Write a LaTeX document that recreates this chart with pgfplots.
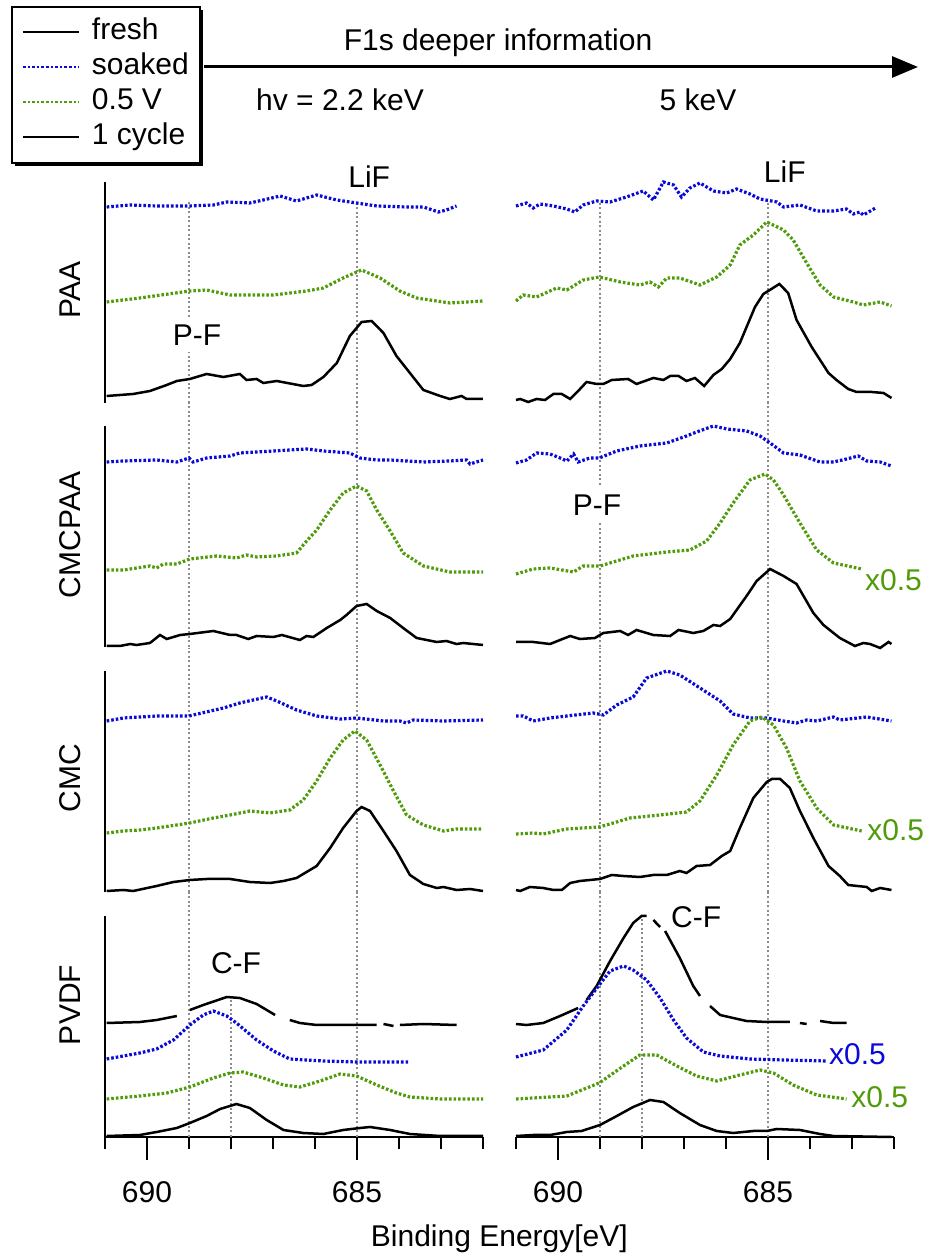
\documentclass[border=0pt]{standalone}
\usepackage{fontspec}
\setmainfont{Liberation Sans}
\usepackage{pgfplots}
\pgfplotsset{compat=1.18}
\usetikzlibrary{arrows.meta,shadows}

\definecolor{sblue}{RGB}{10,10,215}
\definecolor{sgreen}{RGB}{80,155,10}
\definecolor{rgray}{RGB}{140,140,140}
\newcommand\fs{\fontsize{30}{36}\selectfont}
\makeatletter
\tikzset{reset preactions/.code={\let\tikz@preactions\pgfutil@empty}}
\makeatother

\pgfplotsset{
 panel/.style={scale only axis, width=378pt, height=221pt, xmin=682, xmax=691, x dir=reverse,
   ymin=0, ymax=221, clip=false, ytick=\empty, xtick=\empty, axis line style={line width=2.5pt},
   unbounded coords=jump, anchor=south west, font=\fs},
 leftpanel/.style={panel, axis x line=none, axis y line*=left},
 rightpanel/.style={panel, hide axis},
 bottomtick/.style={xtick={690,685}, minor xtick={682,...,691}, tick align=outside,
   major tick length=23pt, minor tick length=12pt, tick style={line width=2.5pt, black},
   xticklabels={}},
 fresh/.style={black, line width=2.5pt},
 soak/.style={sblue, line width=3.2pt, dash pattern=on 2.6pt off 2pt},
 half/.style={sgreen, line width=3.2pt, dash pattern=on 2.6pt off 2pt},
 cyc/.style={black, line width=2.5pt},
 ref/.style={rgray, line width=1.8pt, dash pattern=on 2pt off 2.5pt, forget plot},
}

\begin{document}
\begin{tikzpicture}
\path[use as bounding box] (0pt,0pt) rectangle (929pt,1258pt);

% ---------------- Row 1 left : PAA, 2.2 keV
\begin{axis}[leftpanel, at={(105pt,855pt)},
  legend image code/.code={\draw[reset preactions, #1, line width=2pt] (0pt,0pt) -- (56pt,0pt);},
  legend cell align=left,
  legend style={at={(-0.2487,1.7964)}, anchor=north west, draw=black, line width=2pt, fill=white,
    drop shadow={shadow xshift=3pt, shadow yshift=-3pt, opacity=1, fill=black},
    font=\fs, inner xsep=10pt, inner ysep=10pt, row sep=4pt,
    /tikz/every odd column/.append style={column sep=11pt},
    nodes={inner sep=1pt, text height=22pt, text depth=7pt}}]
\addlegendimage{fresh}
\addlegendimage{soak}
\addlegendimage{half}
\addlegendimage{cyc}
\legend{fresh,soaked,0.5 V,1 cycle}
\addplot[ref] coordinates {(689,0) (689,51) (689,nan) (689,86) (689,203)};
\addplot[ref] coordinates {(685,0) (685,200)};
\addplot[soak, forget plot] coordinates {(690.96,196) (690.40,198) (689.77,197) (689.00,197) (688.42,198) (688.10,201) (687.55,200) (687.23,203) (686.83,207) (686.44,202) (685.96,208) (685.48,203) (685.01,200) (684.53,197) (683.82,196) (683.42,196) (683.06,191) (682.87,193) (682.63,197)};
\addplot[half, forget plot] coordinates {(690.96,101) (690.17,105) (688.98,112) (688.58,113) (688.02,108) (686.99,108) (686.20,112) (685.80,115) (685.33,125) (684.89,133) (684.45,125) (683.98,112) (683.58,105) (682.79,100) (682.0,102)};
\addplot[cyc, forget plot] coordinates {(690.96,7) (690.33,9) (689.93,12) (689.53,18) (689.29,22) (688.98,24) (688.58,29) (688.18,26) (687.79,29) (687.63,23) (687.39,24) (687.23,20) (686.91,22) (686.28,17) (686.08,18) (685.80,26) (685.48,40) (685.17,67) (684.89,81) (684.65,82) (684.37,70) (684.06,47) (683.74,30) (683.42,13) (683.02,7) (682.79,4) (682.51,7) (682.39,4) (682.0,4)};
\node[font=\fs] at (axis cs:684.71,226) {LiF};
\node[font=\fs] at (axis cs:688.81,68) {P-F};
\node[font=\fs, rotate=90] at (axis cs:691.83,113) {PAA};
\end{axis}

% ---------------- Row 1 right : PAA, 5 keV
\begin{axis}[rightpanel, at={(516pt,855pt)}]
\addplot[ref] coordinates {(689,0) (689,201)};
\addplot[ref] coordinates {(685,0) (685,201)};
\addplot[soak] coordinates {(691.00,197) (690.75,200) (690.59,195) (690.43,199) (690.11,197) (689.79,194) (689.60,191) (689.40,198) (689.08,202) (688.76,201) (688.37,206) (687.97,212) (687.73,203) (687.49,221) (687.25,218) (687.06,206) (686.86,215) (686.62,220) (686.30,212) (685.98,210) (685.75,214) (685.43,209) (685.19,204) (684.79,201) (684.63,196) (684.24,198) (683.84,192) (683.44,192) (683.13,194) (682.97,189) (682.81,191) (682.73,188) (682.44,195)};
\addplot[half] coordinates {(691.00,102) (690.83,108) (690.51,106) (690.03,115) (689.79,113) (689.40,123) (689.02,126) (688.52,121) (688.05,118) (687.81,121) (687.61,116) (687.41,125) (687.10,125) (686.62,118) (686.22,126) (685.90,138) (685.67,158) (685.35,168) (685.03,181) (684.63,173) (684.40,163) (684.08,140) (683.76,118) (683.44,106) (682.97,101) (682.73,98) (682.33,101) (682.06,97)};
\addplot[cyc] coordinates {(691.00,3) (690.90,4) (690.71,1) (690.51,4) (690.31,3) (690.11,9) (689.91,9) (689.71,4) (689.52,12) (689.32,21) (689.08,19) (688.92,19) (688.72,23) (688.33,24) (688.13,19) (687.73,25) (687.49,23) (687.33,27) (687.13,27) (686.94,22) (686.74,25) (686.52,17) (686.30,28) (686.10,34) (685.90,44) (685.67,60) (685.31,96) (685.11,109) (684.73,119) (684.52,110) (684.32,83) (683.96,56) (683.56,30) (683.37,23) (683.09,14) (682.89,11) (682.53,11) (682.25,10) (682.06,5)};
\node[font=\fs] at (axis cs:684.6,231) {LiF};
\end{axis}

% ---------------- Row 2 left : CMCPAA, 2.2 keV
\begin{axis}[leftpanel, at={(105pt,611pt)}]
\addplot[ref] coordinates {(689,0) (689,244)};
\addplot[ref] coordinates {(685,0) (685,244)};
\addplot[soak] coordinates {(690.96,185) (690.56,186) (689.77,187) (689.29,185) (689.00,189) (688.90,185) (688.58,189) (688.02,191) (687.79,194) (687.39,195) (686.99,196) (686.20,198) (685.80,196) (685.17,194) (684.93,189) (684.53,187) (684.21,187) (683.42,185) (682.79,186) (682.39,187) (682.31,183) (682.0,187)};
\addplot[half] coordinates {(690.96,77) (690.56,77) (689.93,81) (689.77,79) (689.61,83) (689.29,83) (688.98,88) (688.34,91) (687.87,89) (687.63,92) (687.39,90) (686.91,91) (686.44,94) (686.20,106) (685.96,117) (685.64,137) (685.33,154) (685.01,161) (684.77,156) (684.53,137) (684.21,116) (683.90,94) (683.42,81) (682.79,75) (682.0,75)};
\addplot[cyc] coordinates {(690.96,1) (690.64,1) (690.40,3) (690.25,2) (689.93,4) (689.69,12) (689.53,8) (689.21,12) (688.98,13) (688.42,16) (688.02,12) (687.87,12) (687.59,8) (687.39,11) (686.99,10) (686.79,12) (686.36,7) (686.20,11) (686.04,10) (685.72,19) (685.40,27) (685.25,32) (685.01,41) (684.77,43) (684.53,36) (684.21,29) (683.90,19) (683.58,9) (683.10,5) (682.87,6) (682.63,3) (682.47,4) (682.0,2)};
\node[font=\fs, rotate=90] at (axis cs:691.83,112) {CMCPAA};
\end{axis}

% ---------------- Row 2 right : CMCPAA, 5 keV
\begin{axis}[rightpanel, at={(516pt,611pt)}]
\addplot[ref] coordinates {(689,0) (689,125) (689,nan) (689,162) (689,244)};
\addplot[ref] coordinates {(685,0) (685,244)};
\addplot[soak] coordinates {(691.00,184) (690.75,187) (690.51,194) (690.19,193) (689.95,189) (689.79,186) (689.63,193) (689.52,185) (689.24,189) (689.02,189) (688.60,196) (688.05,201) (687.41,204) (686.94,211) (686.70,215) (686.30,221) (685.98,218) (685.51,216) (685.19,211) (684.95,204) (684.63,194) (684.24,192) (683.76,185) (683.44,185) (683.13,188) (682.85,191) (682.65,186) (682.33,185) (682.06,181)};
\addplot[half] coordinates {(691.00,73) (690.59,78) (690.19,79) (689.63,75) (689.40,81) (689.00,81) (688.21,91) (687.41,95) (686.86,97) (686.46,106) (686.14,124) (685.83,144) (685.43,167) (685.07,173) (684.87,167) (684.63,152) (684.24,124) (683.84,97) (683.44,84) (682.77,78)};
\addplot[cyc] coordinates {(691.00,5) (690.59,5) (690.19,3) (689.71,11) (689.48,8) (689.12,9) (688.92,14) (688.52,16) (688.33,12) (688.13,17) (687.73,12) (687.33,11) (687.13,17) (686.78,14) (686.54,16) (686.30,22) (686.14,21) (685.90,28) (685.51,51) (685.27,66) (684.95,78) (684.63,71) (684.32,63) (683.92,34) (683.68,22) (683.29,9) (682.93,1) (682.73,4) (682.57,3) (682.33,-1) (682.13,5) (682.06,3)};
\node[font=\fs] at (axis cs:689.07,142) {P-F};
\node[font=\fs, text=sgreen, anchor=west, inner sep=0pt] at (axis cs:682.69,67) {x0.5};
\end{axis}

% ---------------- Row 3 left : CMC, 2.2 keV
\begin{axis}[leftpanel, at={(105pt,366pt)}]
\addplot[ref] coordinates {(689,0) (689,244)};
\addplot[ref] coordinates {(685,0) (685,244)};
\addplot[soak] coordinates {(690.96,171) (690.56,174) (689.77,176) (689.00,176) (688.18,184) (687.79,189) (687.47,192) (687.15,195) (686.91,191) (686.44,182) (685.96,176) (685.40,173) (685.01,174) (684.37,171) (683.98,171) (683.82,169) (683.66,172) (682.94,171) (682.0,172)};
\addplot[half] coordinates {(690.96,59) (690.56,61) (690.17,62) (689.77,64) (688.98,69) (688.42,74) (688.02,77) (687.55,81) (687.07,79) (686.60,82) (686.28,92) (685.96,111) (685.64,134) (685.33,152) (685.05,161) (684.77,152) (684.45,127) (684.13,101) (683.82,77) (683.42,67) (682.94,61) (682.63,63) (682.0,63)};
\addplot[cyc] coordinates {(690.96,1) (690.56,2) (690.33,1) (689.77,6) (689.37,10) (688.98,12) (688.58,13) (688.02,13) (687.55,10) (687.07,9) (686.75,11) (686.44,14) (685.96,26) (685.64,44) (685.33,64) (685.01,81) (684.89,85) (684.69,81) (684.37,61) (684.06,41) (683.74,17) (683.42,8) (683.10,4) (682.94,5) (682.63,2) (682.31,3) (682.0,1)};
\node[font=\fs, rotate=90] at (axis cs:691.83,114) {CMC};
\end{axis}

% ---------------- Row 3 right : CMC, 5 keV
\begin{axis}[rightpanel, at={(516pt,366pt)}]
\addplot[ref] coordinates {(689,0) (689,244)};
\addplot[ref] coordinates {(685,0) (685,244)};
\addplot[soak] coordinates {(691.00,176) (690.83,176) (690.59,171) (690.19,174) (689.79,176) (689.16,179) (688.92,177) (688.60,187) (688.21,195) (687.89,214) (687.41,221) (687.10,217) (686.62,204) (686.14,191) (685.83,178) (685.43,174) (685.03,174) (684.63,171) (684.32,169) (684.08,172) (683.84,171) (683.44,175) (683.29,172) (682.65,175) (682.06,171)};
\addplot[half] coordinates {(691.00,58) (690.59,59) (690.35,58) (689.79,63) (689.02,65) (688.68,69) (688.29,74) (687.57,77) (686.94,80) (686.62,91) (686.22,117) (685.83,147) (685.43,171) (685.15,175) (684.87,167) (684.56,144) (684.24,111) (683.84,84) (683.44,67) (682.77,61)};
\addplot[cyc] coordinates {(691.00,2) (690.90,1) (690.67,5) (690.35,4) (690.11,2) (689.91,2) (689.71,9) (689.48,11) (689.00,13) (688.72,17) (688.44,16) (688.05,15) (687.73,17) (687.41,17) (687.10,21) (686.94,19) (686.70,26) (686.38,27) (686.10,36) (685.90,41) (685.67,64) (685.35,94) (685.03,110) (684.91,113) (684.71,113) (684.48,104) (684.24,81) (683.92,54) (683.56,26) (683.29,16) (683.09,7) (682.65,5) (682.53,1) (682.33,4) (682.06,2)};
\node[font=\fs, text=sgreen, anchor=west, inner sep=0pt] at (axis cs:682.64,62) {x0.5};
\end{axis}

% ---------------- Row 4 left : PVDF, 2.2 keV
\begin{axis}[panel, axis x line*=bottom, axis y line*=left, bottomtick, at={(105pt,121pt)}]
\addplot[ref] coordinates {(689,0) (689,245)};
\addplot[ref] coordinates {(685,0) (685,245)};
\addplot[ref] coordinates {(688,0) (688,137)};
\addplot[fresh] coordinates {(690.96,114) (690.17,115) (689.77,117) (689.29,121) (689.15,nan) (688.98,127) (688.66,132) (688.10,140) (687.79,139) (687.39,133) (686.95,122) (686.80,nan) (686.60,117) (686.36,114) (685.96,112) (685.01,112) (684.53,112) (684.45,nan) (684.37,113) (684.13,111) (684.05,nan) (683.98,112) (683.42,113) (682.63,112)};
\addplot[soak] coordinates {(690.96,78) (690.17,84) (689.77,88) (689.37,97) (688.98,112) (688.66,122) (688.42,126) (688.10,121) (687.87,114) (687.39,97) (686.99,86) (686.60,78) (685.80,76) (685.01,75) (683.74,75)};
\addplot[half] coordinates {(690.96,38) (690.17,41) (689.53,44) (688.98,50) (688.42,59) (688.02,64) (687.71,65) (687.23,59) (686.75,52) (686.36,50) (685.88,56) (685.40,63) (685.01,61) (684.53,52) (684.06,44) (683.74,40) (683.02,38) (682.0,38)};
\addplot[cyc] coordinates {(690.96,1) (690.17,2) (689.77,5) (689.29,9) (688.98,14) (688.58,21) (688.26,28) (687.87,33) (687.55,29) (687.15,17) (686.75,7) (686.28,4) (685.80,3) (685.33,7) (684.93,9) (684.69,10) (684.21,7) (683.74,3) (683.02,1) (682.0,1)};
\node[font=\fs] at (axis cs:687.88,174) {C-F};
\node[font=\fs, rotate=90] at (axis cs:691.83,132) {PVDF};
\node[font=\fs] at (axis cs:690,-55) {690};
\node[font=\fs] at (axis cs:685,-55) {685};
\node[font=\fs] at (axis cs:681.61,-102) {Binding Energy[eV]};
\end{axis}

% ---------------- Row 4 right : PVDF, 5 keV
\begin{axis}[panel, axis x line*=bottom, axis y line=none, bottomtick, at={(516pt,121pt)}]
\addplot[ref] coordinates {(689,0) (689,245)};
\addplot[ref] coordinates {(685,0) (685,245)};
\addplot[ref] coordinates {(688,0) (688,220)};
\addplot[fresh] coordinates {(691.00,113) (690.75,112) (690.35,114) (689.95,121) (689.52,129) (689.42,nan) (689.32,137) (689.08,151) (688.76,176) (688.44,199) (688.21,214) (688.01,221) (687.89,221) (687.81,nan) (687.73,217) (687.57,210) (687.51,nan) (687.45,206) (687.10,179) (686.78,151) (686.62,141) (686.50,nan) (686.38,131) (686.14,122) (685.83,119) (685.51,116) (685.03,115) (684.48,115) (684.36,nan) (684.24,114) (684.08,113) (683.92,nan) (683.76,116) (683.44,114) (683.13,114)};
\addplot[soak] coordinates {(691.00,80) (690.35,87) (689.79,107) (689.40,131) (689.02,152) (688.76,166) (688.44,171) (688.21,167) (687.89,157) (687.57,139) (687.25,117) (686.94,99) (686.54,85) (686.14,81) (685.43,78) (684.63,77) (683.60,76)};
\addplot[half] coordinates {(691.00,38) (689.79,41) (689.02,54) (688.44,71) (688.05,82) (687.65,82) (687.17,71) (686.70,61) (686.22,56) (685.67,62) (685.19,67) (684.87,64) (684.40,52) (683.84,42) (683.13,38)};
\addplot[cyc] coordinates {(691.00,1) (690.59,2) (690.19,2) (689.79,5) (689.44,6) (689.00,12) (688.60,21) (688.21,30) (687.81,37) (687.49,35) (687.10,24) (686.62,12) (686.22,6) (685.83,4) (685.35,6) (685.03,6) (684.79,8) (684.24,7) (683.76,3) (683.44,1) (682.06,0)};
\node[font=\fs] at (axis cs:686.71,220) {C-F};
\node[font=\fs, text=sblue, anchor=west, inner sep=0pt] at (axis cs:683.55,83) {x0.5};
\node[font=\fs, text=sgreen, anchor=west, inner sep=0pt] at (axis cs:683.02,40) {x0.5};
\node[font=\fs] at (axis cs:690,-55) {690};
\node[font=\fs] at (axis cs:685,-55) {685};
\end{axis}

% ---------------- header
\draw[line width=3pt, -{Triangle[length=26pt,width=21pt]}] (204pt,1191pt) -- (918pt,1191pt);
\node[font=\fs] at (498pt,1215pt) {F1s deeper information};
\node[font=\fs] at (340pt,1158pt) {hv = 2.2 keV};
\node[font=\fs] at (698pt,1158pt) {5 keV};
\end{tikzpicture}
\end{document}
